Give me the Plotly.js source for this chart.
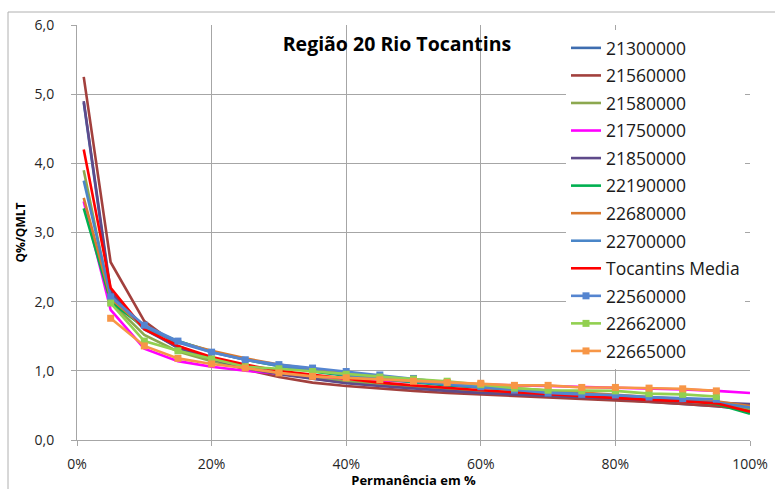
<!DOCTYPE html>
<html>
<head>
<meta charset="utf-8">
<script src="https://cdn.plot.ly/plotly-3.0.1.min.js"></script>
<style>
  html, body { margin: 0; padding: 0; background: #ffffff; }
  #chart { width: 775px; height: 489px; }
</style>
</head>
<body>
<div id="chart"></div>
<script>
// Permanência (%) for the full-curve stations and for the marker stations
const permFull = [1, 5, 10, 15, 20, 25, 30, 35, 40, 45, 50, 55, 60, 65, 70, 75, 80, 85, 90, 95, 100];
const permMarker = [5, 10, 15, 20, 25, 30, 35, 40, 45, 50, 55, 60, 65, 70, 75, 80, 85, 90, 95];

// Q%/QMLT values per station
const s21300000 = [4.88, 2.10, 1.60, 1.34, 1.18, 1.06, 0.97, 0.89, 0.83, 0.79, 0.75, 0.72, 0.69, 0.66, 0.64, 0.62, 0.59, 0.56, 0.53, 0.49, 0.44];
const s21560000 = [5.25, 2.57, 1.72, 1.36, 1.17, 1.02, 0.91, 0.83, 0.78, 0.74, 0.71, 0.68, 0.66, 0.64, 0.62, 0.60, 0.58, 0.55, 0.52, 0.49, 0.44];
const s21580000 = [3.90, 2.00, 1.52, 1.28, 1.14, 1.04, 0.96, 0.90, 0.85, 0.81, 0.77, 0.74, 0.71, 0.69, 0.67, 0.65, 0.62, 0.60, 0.57, 0.53, 0.45];
const s21750000 = [3.45, 1.88, 1.32, 1.14, 1.06, 1.00, 0.96, 0.92, 0.89, 0.86, 0.84, 0.82, 0.80, 0.79, 0.78, 0.77, 0.76, 0.75, 0.73, 0.71, 0.68];
const s21850000 = [4.90, 2.15, 1.62, 1.33, 1.17, 1.04, 0.95, 0.88, 0.82, 0.78, 0.74, 0.71, 0.68, 0.66, 0.64, 0.62, 0.60, 0.58, 0.56, 0.54, 0.52];
const s22190000 = [3.35, 2.00, 1.63, 1.43, 1.28, 1.16, 1.07, 0.99, 0.93, 0.88, 0.83, 0.79, 0.76, 0.73, 0.70, 0.67, 0.64, 0.61, 0.57, 0.52, 0.38];
const s22680000 = [3.50, 2.05, 1.62, 1.42, 1.29, 1.18, 1.09, 1.02, 0.96, 0.91, 0.86, 0.82, 0.78, 0.75, 0.72, 0.69, 0.66, 0.63, 0.60, 0.56, 0.49];
const s22700000 = [3.75, 2.08, 1.63, 1.41, 1.27, 1.16, 1.07, 1.00, 0.94, 0.89, 0.84, 0.80, 0.76, 0.73, 0.70, 0.67, 0.64, 0.61, 0.58, 0.54, 0.47];
const sMedia    = [4.20, 2.20, 1.60, 1.36, 1.20, 1.09, 1.00, 0.94, 0.88, 0.83, 0.79, 0.75, 0.72, 0.69, 0.66, 0.63, 0.60, 0.58, 0.56, 0.53, 0.41];
const s22560000 = [2.07, 1.66, 1.43, 1.27, 1.16, 1.09, 1.04, 0.99, 0.94, 0.89, 0.83, 0.77, 0.72, 0.68, 0.66, 0.65, 0.62, 0.60, 0.59];
const s22662000 = [1.98, 1.43, 1.29, 1.17, 1.06, 1.03, 0.99, 0.95, 0.91, 0.88, 0.85, 0.80, 0.75, 0.72, 0.71, 0.71, 0.67, 0.66, 0.63];
const s22665000 = [1.76, 1.36, 1.18, 1.10, 1.04, 0.97, 0.92, 0.90, 0.87, 0.85, 0.83, 0.82, 0.79, 0.79, 0.76, 0.76, 0.75, 0.74, 0.71];

const lineSeries = [
  ["21300000", s21300000, "#3E6DB0"],
  ["21560000", s21560000, "#A2403D"],
  ["21580000", s21580000, "#8CA84F"],
  ["21750000", s21750000, "#FF00FF"],
  ["21850000", s21850000, "#5E4A8A"],
  ["22190000", s22190000, "#00B050"],
  ["22680000", s22680000, "#D9792F"],
  ["22700000", s22700000, "#4A86C8"],
  ["Tocantins Media", sMedia, "#FF0000"]
];
const markerSeries = [
  ["22560000", s22560000, "#5585D0"],
  ["22662000", s22662000, "#92D050"],
  ["22665000", s22665000, "#F79646"]
];

const traces = [];
lineSeries.forEach(function (s, i) {
  traces.push({
    x: permFull, y: s[1], name: s[0], type: "scatter", mode: "lines",
    line: { color: s[2], width: 2.6 },
    legendgroup: "g" + i
  });
});
markerSeries.forEach(function (s, i) {
  traces.push({
    x: permMarker, y: s[1], name: s[0], type: "scatter", mode: "lines+markers",
    line: { color: s[2], width: 2.6 },
    marker: { symbol: "square", size: 7, color: s[2] },
    legendgroup: "m" + i
  });
});

const gridCol = "#A6A6A6";
const layout = {
  width: 775, height: 489,
  margin: { l: 77, r: 25, t: 25, b: 49, pad: 0 },
  paper_bgcolor: "#ffffff", plot_bgcolor: "#ffffff",
  separators: ",.",
  font: { family: "Open Sans, sans-serif", color: "#262626" },
  title: {
    text: "<b>Região 20 Rio Tocantins</b>",
    font: { size: 19.5, color: "#000000", family: "Open Sans, sans-serif" },
    x: 397 / 775, xanchor: "center", xref: "container",
    y: 1 - 44 / 489, yanchor: "middle", yref: "container"
  },
  xaxis: {
    range: [0, 100], dtick: 20, tick0: 0, ticksuffix: "%",
    showgrid: true, gridcolor: gridCol, gridwidth: 1,
    showline: true, linecolor: gridCol, linewidth: 1,
    ticks: "outside", ticklen: 5, tickcolor: gridCol,
    zeroline: false, fixedrange: true,
    tickfont: { size: 14, color: "#262626" },
    ticklabelstandoff: 6,
    title: { text: "<b>Permanência em %</b>", font: { size: 13, color: "#000000" }, standoff: 4 }
  },
  yaxis: {
    range: [0, 6], dtick: 1, tick0: 0, tickformat: ".1f",
    showgrid: true, gridcolor: gridCol, gridwidth: 1,
    showline: true, linecolor: gridCol, linewidth: 1,
    ticks: "outside", ticklen: 5, tickcolor: gridCol,
    zeroline: false, fixedrange: true,
    tickfont: { size: 14, color: "#262626" },
    ticklabelstandoff: 14,
    title: { text: "<b>Q%/QMLT</b>", font: { size: 12, color: "#000000" }, standoff: 6 }
  },
  showlegend: true,
  legend: {
    x: (566 - 77) / 673, xanchor: "left",
    y: 1 - (30 - 25) / 415, yanchor: "top",
    bgcolor: "#ffffff", borderwidth: 0,
    font: { size: 17.5, color: "#1a1a1a" },
    tracegroupgap: 1.8,
    itemwidth: 30
  },
  shapes: [{
    type: "rect", xref: "paper", yref: "paper",
    x0: (8 - 77) / 673, x1: 1.1, y0: -0.3, y1: 1 + (25 - 12) / 415,
    line: { color: "#B0B0B0", width: 1 }, fillcolor: "rgba(0,0,0,0)", layer: "below"
  }]
};

Plotly.newPlot("chart", traces, layout, { displayModeBar: false, staticPlot: true });
</script>
</body>
</html>
